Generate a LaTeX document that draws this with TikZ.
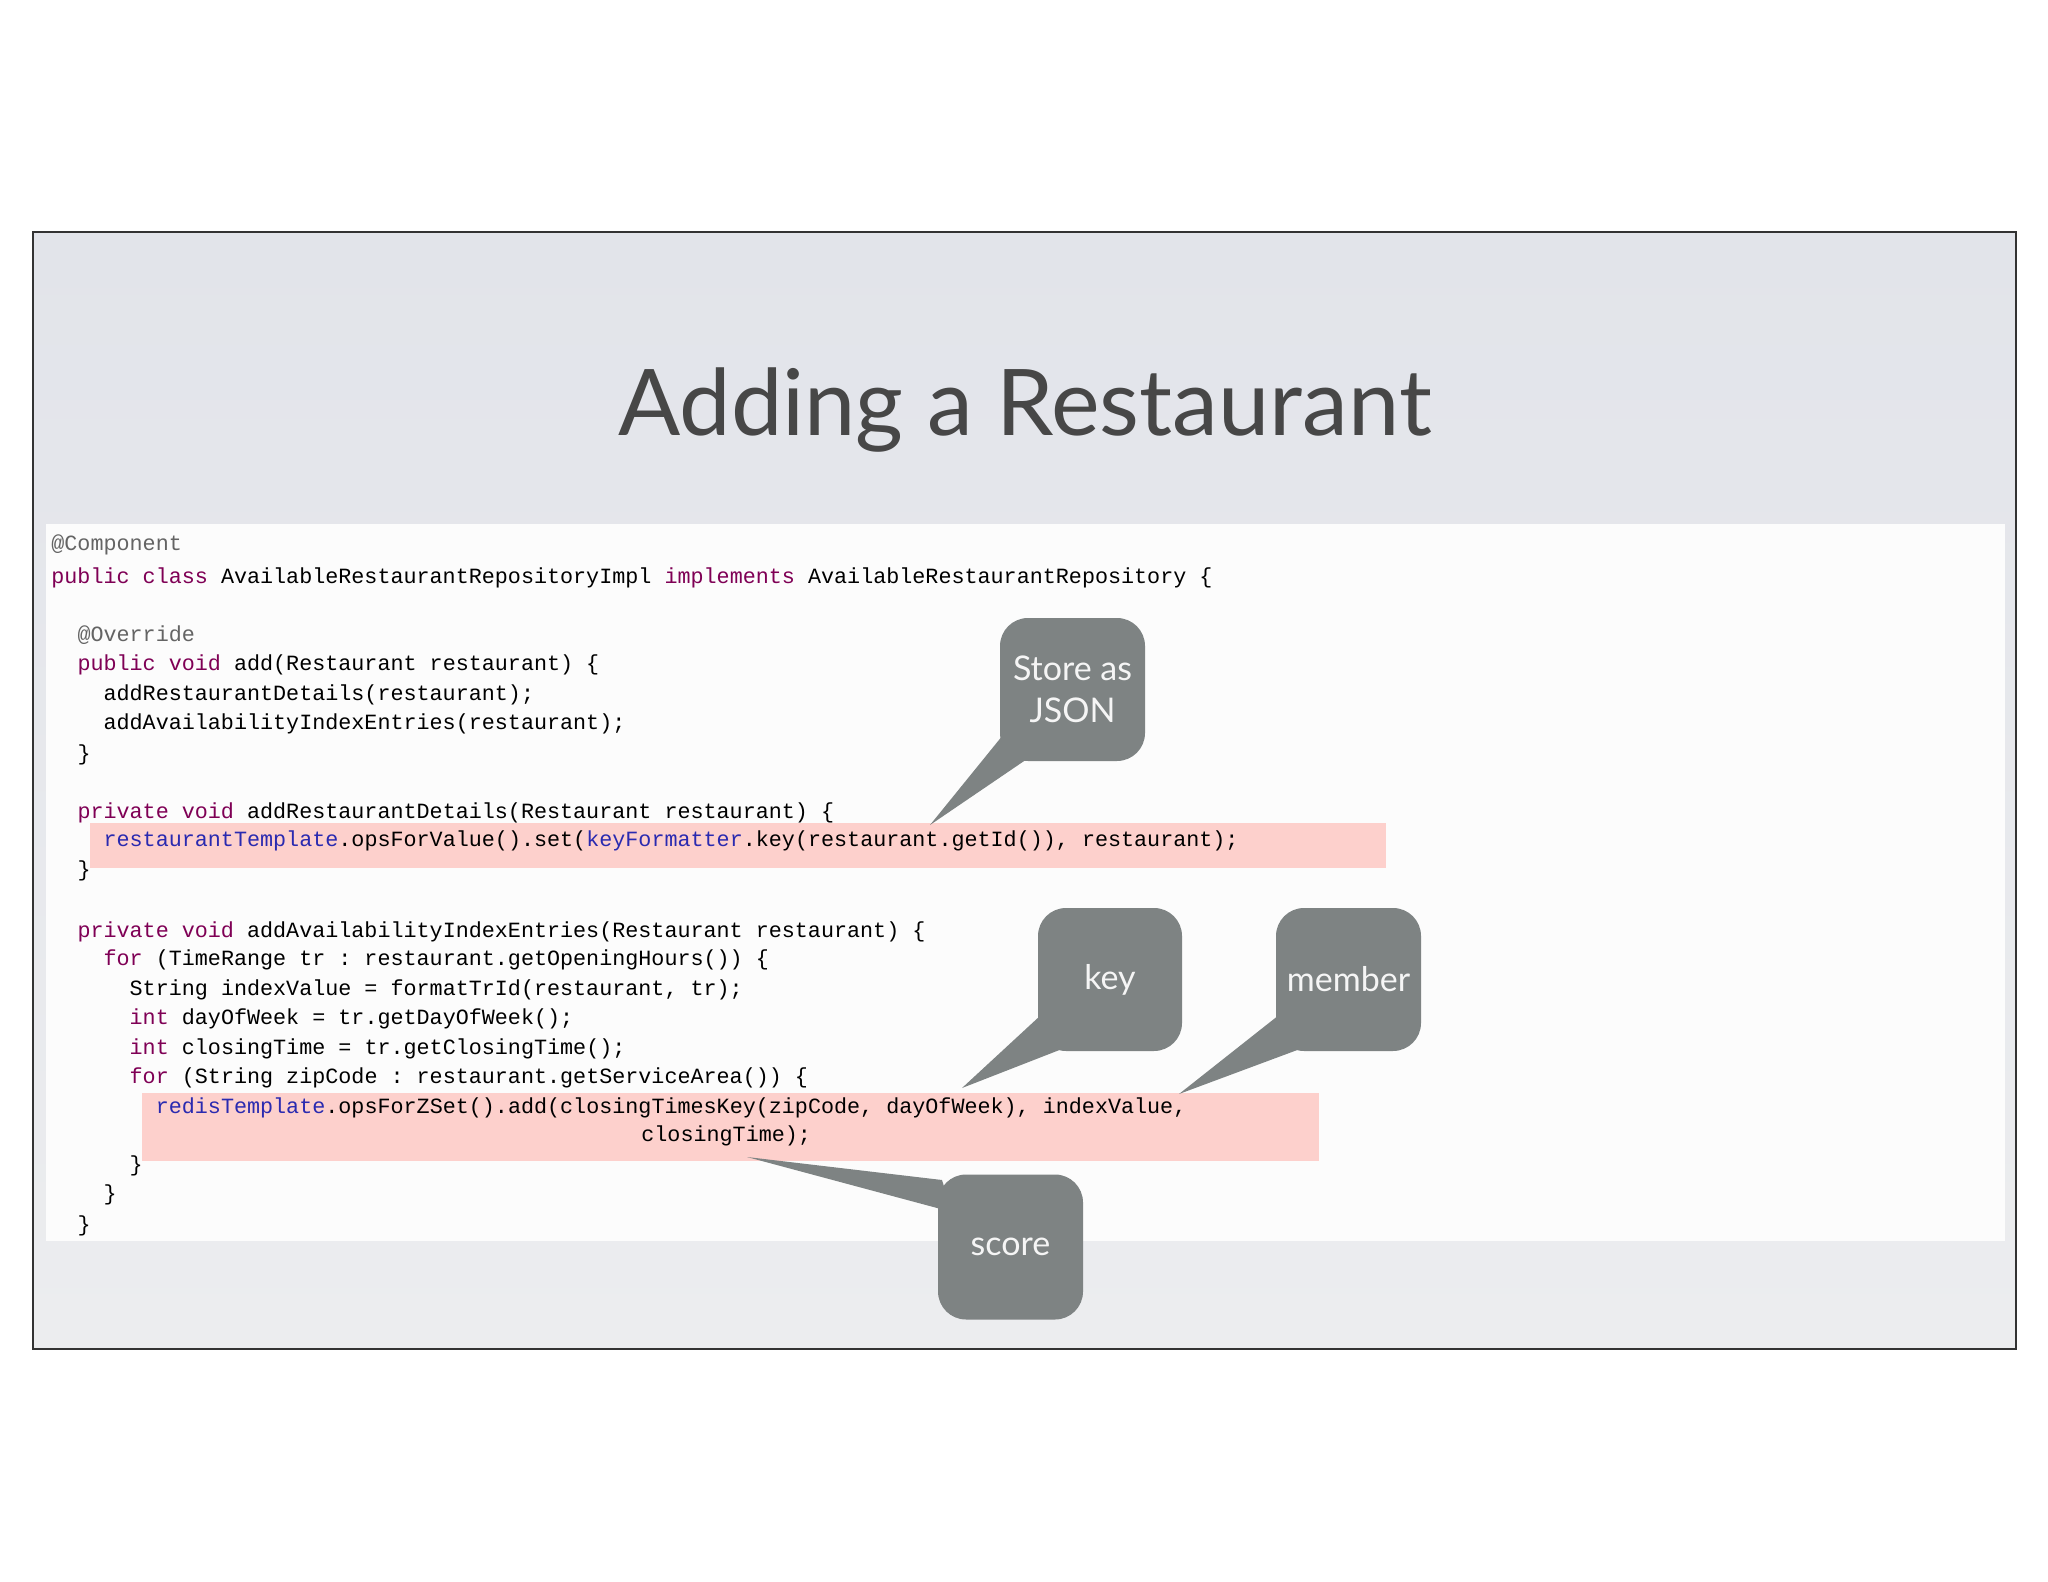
\documentclass[tikz,border=0pt]{standalone}
\usepackage{fontspec}
\setmainfont{Lato}
\setmonofont{Liberation Mono}
\definecolor{kw}{HTML}{7F0055}
\definecolor{fd}{HTML}{2A2AB0}
\definecolor{an}{HTML}{646464}
\definecolor{hl}{HTML}{FDD0CC}
\definecolor{cal}{HTML}{7E8383}
\definecolor{bgtop}{HTML}{E2E4EA}
\definecolor{bgbot}{HTML}{ECEDEF}
\newcommand{\kwd}[1]{\textcolor{kw}{#1}}
\newcommand{\fld}[1]{\textcolor{fd}{#1}}
\newcommand{\ann}[1]{\textcolor{an}{#1}}
\begin{document}
\begin{tikzpicture}[x=0.5pt,y=-0.5pt,
  code/.style={anchor=base west,inner sep=0pt,font=\ttfamily\fontsize{10.87}{13}\selectfont},
  callout/.style={fill=cal,rounded corners=14pt,text=white!92!gray,font=\fontsize{17}{21}\selectfont,align=center,inner sep=0pt}]
\useasboundingbox (0,0) rectangle (2048,1582);
\fill[white] (0,0) rectangle (2048,1582);
\shade[top color=bgtop, bottom color=bgbot] (33,232) rectangle (2016,1349);
\draw[black!80,line width=1pt] (33,232) rectangle (2016,1349);
\node[font=\fontsize{46}{54}\selectfont,text=black!72] (title) at (1025,410) {Adding a Restaurant};
\fill[white!98!gray] (46,524) rectangle (2005,1241);
\fill[hl] (90,823) rectangle (1386,868);
\fill[hl] (142,1093) rectangle (1319,1161);
\node[code] (l1) at (51,551) {\ann{@Component}};
\node[code] (l2) at (51,583) {\kwd{public class} AvailableRestaurantRepositoryImpl \kwd{implements} AvailableRestaurantRepository \{};
\node[code] (l3) at (77.1,641) {\ann{@Override}};
\node[code] (l4) at (77.1,670) {\kwd{public void} add(Restaurant restaurant) \{};
\node[code] (l5) at (103.2,700) {addRestaurantDetails(restaurant);};
\node[code] (l6) at (103.2,729) {addAvailabilityIndexEntries(restaurant);};
\node[code] (l7) at (77.1,760) {\}};
\node[code] (l8) at (77.1,818) {\kwd{private void} addRestaurantDetails(Restaurant restaurant) \{};
\node[code] (l9) at (103.2,846) {\fld{restaurantTemplate}.opsForValue().set(\fld{keyFormatter}.key(restaurant.getId()), restaurant);};
\node[code] (l10) at (77.1,876) {\}};
\node[code] (l11) at (77.1,937) {\kwd{private void} addAvailabilityIndexEntries(Restaurant restaurant) \{};
\node[code] (l12) at (103.2,965) {\kwd{for} (TimeRange tr : restaurant.getOpeningHours()) \{};
\node[code] (l13) at (129.3,995) {String indexValue = formatTrId(restaurant, tr);};
\node[code] (l14) at (129.3,1024) {\kwd{int} dayOfWeek = tr.getDayOfWeek();};
\node[code] (l15) at (129.3,1054) {\kwd{int} closingTime = tr.getClosingTime();};
\node[code] (l16) at (129.3,1083) {\kwd{for} (String zipCode : restaurant.getServiceArea()) \{};
\node[code] (l17) at (155.4,1113) {\fld{redisTemplate}.opsForZSet().add(closingTimesKey(zipCode, dayOfWeek), indexValue,};
\node[code] (l18) at (641,1141) {closingTime);};
\node[code] (l19) at (129.3,1171) {\}};
\node[code] (l20) at (103.2,1200) {\}};
\node[code] (l21) at (77.1,1231) {\}};
% callout tails
\coordinate (tj) at (930,825);
\coordinate (tk) at (962,1088);
\coordinate (tm) at (1179,1094);
\coordinate (ts) at (747,1157);
\fill[cal] (1003,735) -- (tj) -- (1030,757) -- cycle;
\fill[cal] (1041,1015) -- (tk) -- (1062,1049) -- cycle;
\fill[cal] (1279,1015) -- (tm) -- (1300,1049) -- cycle;
\fill[cal] (942,1180) -- (ts) -- (952,1212) -- cycle;
\node[callout,minimum width=72.5pt,minimum height=71.5pt] (json) at (1072.5,689.5) {Store as\\JSON};
\node[callout,minimum width=72pt,minimum height=71.5pt] (key) at (1110,979.5) {key};
\node[callout,minimum width=72.5pt,minimum height=71.5pt] (member) at (1348.5,979.5) {member};
\node[callout,minimum width=72.5pt,minimum height=72.5pt] (score) at (1010.5,1247) {score};
\end{tikzpicture}
\end{document}
